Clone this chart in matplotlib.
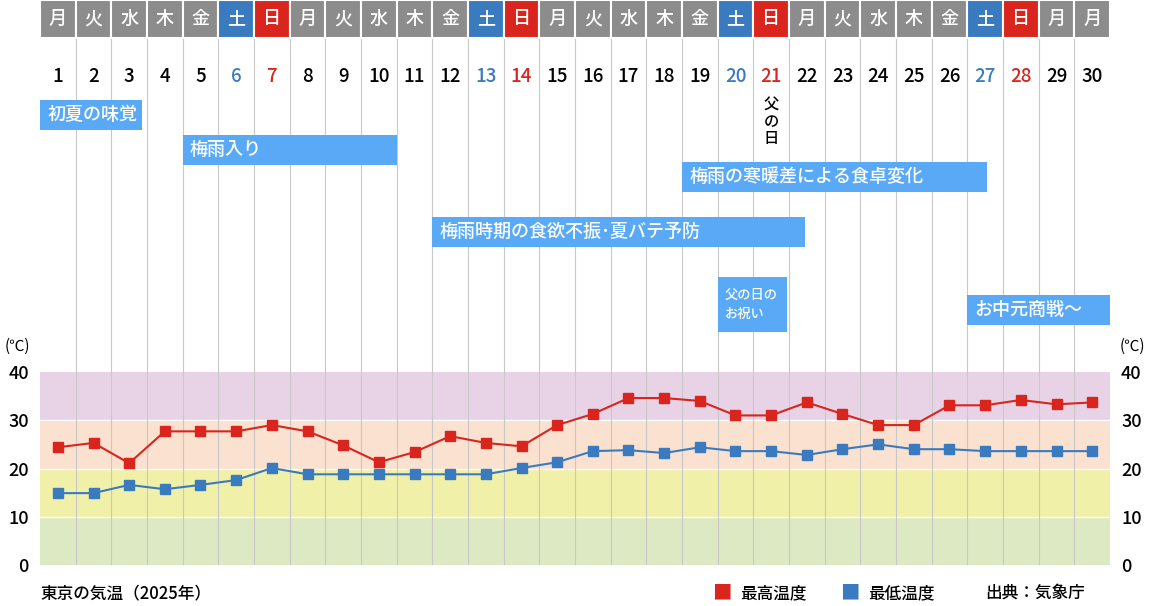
import matplotlib
matplotlib.use("Agg")
import matplotlib.pyplot as plt
from matplotlib.patches import Rectangle

plt.rcParams['font.family'] = ['Noto Sans CJK JP', 'DejaVu Sans']

days = list(range(1, 31))
weekdays = ["月","火","水","木","金","土","日"]*4 + ["月","月"]
high = [24.4,25.3,21.1,27.7,27.7,27.7,29.0,27.7,24.8,21.3,23.4,26.7,25.3,24.6,29.0,
        31.3,34.6,34.6,34.0,31.0,31.0,33.7,31.3,29.0,29.0,33.1,33.1,34.2,33.3,33.7]
low = [14.9,14.9,16.6,15.7,16.6,17.6,20.1,18.8,18.8,18.8,18.8,18.8,18.8,20.1,21.3,
       23.6,23.8,23.2,24.4,23.6,23.6,22.8,24.0,25.0,24.0,24.0,23.6,23.6,23.6,23.6]
# (text, left edge, right edge in column units, top px, bottom px, fontsize)
events = [("初夏の味覚",0.5,3.36,100,130,13),
          ("梅雨入り",4.5,10.5,135,165,13),
          ("梅雨の寒暖差による食卓変化",18.5,27.05,162,192,13),
          ("梅雨時期の食欲不振･夏バテ予防",11.5,21.95,217,247,13),
          ("父の日の\nお祝い",19.5,21.45,277,332,9.5),
          ("お中元商戦〜",26.5,30.5,295,325,13)]

W, H = 1149, 606
fig = plt.figure(figsize=(W/100, H/100), dpi=100)
x0, x1 = 40, 1110
ov = fig.add_axes([x0/W, 0, (x1-x0)/W, 1])
ov.set_xlim(0.5, 30.5); ov.set_ylim(H, 0); ov.axis('off')

yt, yb = 372, 565
ax = fig.add_axes([x0/W, 1-yb/H, (x1-x0)/W, (yb-yt)/H])
ax.set_xlim(0.5, 30.5); ax.set_ylim(0, 40)
for lo, c in [(0,'#dde9c3'),(10,'#f0f0a8'),(20,'#fae1d0'),(30,'#e8d3e6')]:
    ax.axhspan(lo, lo+10, color=c, zorder=0)
for y in [10,20,30]:
    ax.axhline(y, color='white', lw=1, zorder=1)
for d in days[:-1]:
    ax.axvline(d+0.5, color='#c8c8c8', lw=0.8, zorder=1)
ax.plot(days, high, color='#d9251d', marker='s', ms=7, lw=1.5, zorder=3)
ax.plot(days, low, color='#3a7bbf', marker='s', ms=7, lw=1.5, zorder=3)
ax.set_yticks([0,10,20,30,40])
ax.set_xticks([])
ax.tick_params(axis='y', labelsize=13, length=0, labelright=True, pad=8)
for lab in ax.get_yticklabels(): lab.set_fontweight('medium')
for s in ax.spines.values(): s.set_visible(False)

for d in days[:-1]:
    ov.plot([d+0.5,d+0.5],[0,yt],color='#c8c8c8',lw=0.8,zorder=1)
for d, w in zip(days, weekdays):
    c = '#3a7bbf' if w=="土" else ('#d9251d' if w=="日" else '#8c8c8c')
    ov.add_patch(Rectangle((d-0.5,0),1,38,facecolor=c,edgecolor='white',lw=1.5,zorder=2))
    ov.text(d,19,w,color='white',ha='center',va='center',fontsize=13,fontweight='medium',zorder=3)
    nc = '#3a7bbf' if w=="土" else ('#d9251d' if w=="日" else 'black')
    ov.text(d,76,str(d),color=nc,ha='center',va='center',fontsize=13.5,fontweight='medium',zorder=3)
ov.text(21,122,"父\nの\n日",ha='center',va='center',fontsize=11,linespacing=1.0,fontweight='medium',zorder=3)
for t,a,b,ya,yb2,fs in events:
    ov.add_patch(Rectangle((a,ya),b-a,yb2-ya,facecolor='#59a9f7',edgecolor='none',zorder=2))
    ov.text(a+0.2,(ya+yb2)/2,t,color='white',ha='left',va='center',fontsize=fs,
            fontweight='medium',zorder=3,linespacing=1.5)

fig.text(5/W,1-346/H,"(℃)",fontsize=11,va='center')
fig.text(1120/W,1-346/H,"(℃)",fontsize=11,va='center')
fig.text(40/W,1-593/H,"東京の気温（2025年）",fontsize=12,fontweight='medium',va='center')
fig.text(712/W,1-593/H,"■",color='#d9251d',fontsize=14,va='center')
fig.text(740/W,1-593/H,"最高温度",fontsize=12,fontweight='medium',va='center')
fig.text(840/W,1-593/H,"■",color='#3a7bbf',fontsize=14,va='center')
fig.text(868/W,1-593/H,"最低温度",fontsize=12,fontweight='medium',va='center')
fig.text(985/W,1-593/H,"出典：気象庁",fontsize=12,fontweight='medium',va='center')
fig.savefig("out.png", dpi=100)
